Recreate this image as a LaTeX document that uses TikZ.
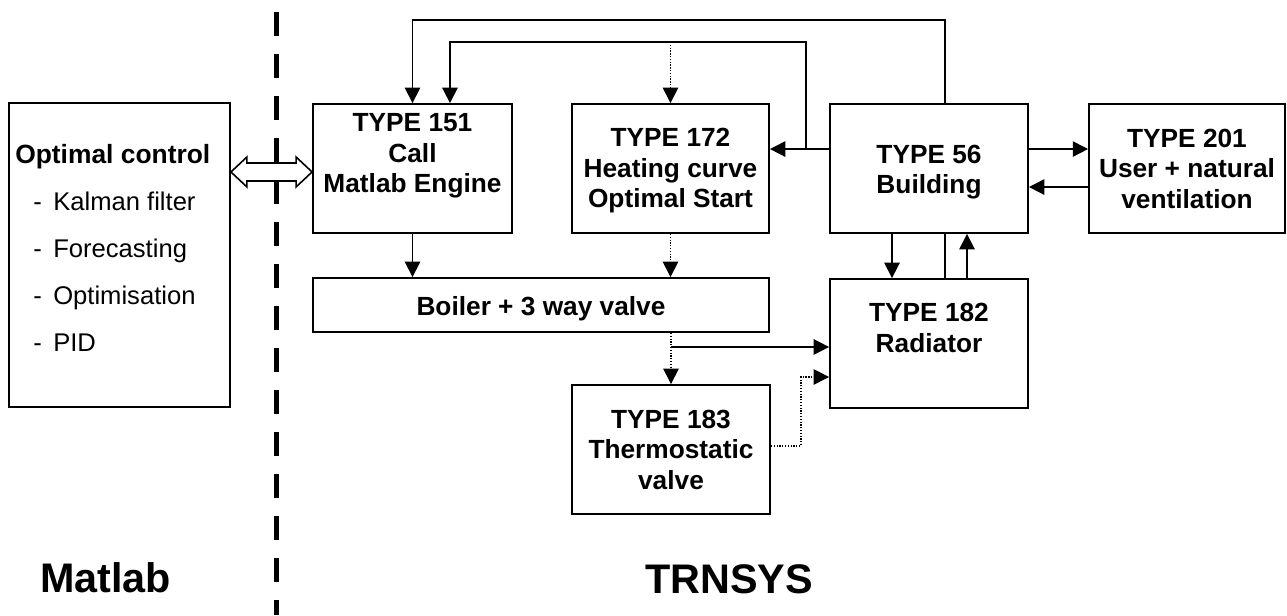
\documentclass[tikz,border=0pt]{standalone}
\usepackage{fontspec}
\setmainfont{Liberation Sans}
\usetikzlibrary{arrows.meta,calc}
\begin{document}
\begin{tikzpicture}[x=0.75pt,y=-0.75pt,
  box/.style={draw,line width=1.4pt,inner sep=0pt},
  lbl/.style={inner sep=0pt,align=center,font=\fontsize{19.7}{22.9}\selectfont\bfseries},
  octitle/.style={anchor=base west,inner sep=0pt,font=\fontsize{19.8}{22}\selectfont\bfseries},
  ocitem/.style={anchor=base west,inner sep=0pt,font=\fontsize{19.2}{22}\selectfont},
  big/.style={anchor=base west,inner sep=0pt,font=\fontsize{31}{36}\selectfont\bfseries},
  plain/.style={line width=1.2pt},
  arr/.style={line width=1.2pt,-{Triangle[length=11.5pt,width=11.5pt]}},
  dotarr/.style={line width=1pt,dash pattern=on 1pt off 1.1pt,-{Triangle[length=11.5pt,width=11.5pt]}},
  sep/.style={line width=3.75pt,dash pattern=on 18pt off 13.5pt}]
\useasboundingbox (0,0) rectangle (1287,615);

% boxes
\node[box,minimum width=165.75pt,minimum height=228pt] (oc) at (119.5,255) {};
\node[box,minimum width=149.25pt,minimum height=96.75pt] (t151) at (412.5,168.5) {};
\node[box,minimum width=147.75pt,minimum height=96.75pt] (t172) at (670.5,168.5) {};
\node[box,minimum width=148.5pt,minimum height=96.75pt] (t56) at (929,168.5) {};
\node[box,minimum width=147pt,minimum height=96.75pt] (t201) at (1187,168.5) {};
\node[box,minimum width=342pt,minimum height=40.5pt] (boiler) at (541,305) {};
\node[box,minimum width=148.5pt,minimum height=96.75pt] (t182) at (929,343.5) {};
\node[box,minimum width=148.5pt,minimum height=96.75pt] (t183) at (671,449.5) {};

% box texts
\node[lbl] (l151) at (412.5,156) {TYPE 151\\Call\\Matlab Engine};
\node[lbl] (l172) at (670.5,171) {TYPE 172\\Heating curve\\Optimal Start};
\node[lbl] (l56) at (929,172) {TYPE 56\\Building};
\node[lbl] (l201) at (1187,168.5) {TYPE 201\\User + natural\\ventilation};
\node[lbl] (lboiler) at (541,309) {Boiler + 3 way valve};
\node[lbl] (l182) at (929,328) {TYPE 182\\Radiator};
\node[lbl] (l183) at (671,449.5) {TYPE 183\\Thermostatic\\valve};

\node[octitle] (oc0) at (15,163) {Optimal control};
\node[ocitem] (oc1) at (33,210) {\makebox[15pt][l]{-}Kalman filter};
\node[ocitem] (oc2) at (33,257) {\makebox[15pt][l]{-}Forecasting};
\node[ocitem] (oc3) at (33,304) {\makebox[15pt][l]{-}Optimisation};
\node[ocitem] (oc4) at (33,351) {\makebox[15pt][l]{-}PID};

\node[big] (mat) at (40,592) {Matlab};
\node[big] (trn) at (645,593) {TRNSYS};

% double arrow Matlab <-> TYPE 151
\coordinate (dL) at ([yshift=-2.6pt]t151.west -| oc.east);
\coordinate (dR) at ([yshift=-2.6pt]t151.west);
\draw[line width=1.2pt,fill=white,line join=miter] (dL) -- ++(16,-15) -- ++(0,6) -- ($(dR)+(-16,-9)$) -- ++(0,-6) -- (dR)
  -- ++(-16,15) -- ++(0,-6) -- ($(dL)+(16,9)$) -- ++(0,6) -- cycle;

% separator
\coordinate (sepTop) at (276,12);
\coordinate (sepBot) at (276,615);
\draw[sep] (sepTop) -- (sepBot);

% connectors
\coordinate (topA) at (0,20);
\coordinate (topB) at (0,42);
\draw[arr] ([xshift=12pt]t56.north) -- ([xshift=12pt]t56.north |- topA) -| (t151.north);
\coordinate (br1) at ([xshift=-17.25pt,yshift=14.6pt]t56.west);
\draw[arr] ([yshift=14.6pt]t56.west) -- ([yshift=14.6pt]t172.east);
\draw[arr] (br1) -- (br1 |- topB) -| ([xshift=28.1pt]t151.north);
\draw[dotarr] (t172.north |- topB) -- (t172.north);
\draw[dotarr] (t172.south) -- (t172.south |- boiler.north);
\draw[arr] (t151.south) -- (t151.south |- boiler.north);
\draw[dotarr] (t183.north |- boiler.south) -- (t183.north);
\coordinate (br2) at ([yshift=-2.6pt]t182.west);
\draw[arr] (t183.north |- br2) -- (br2);
\coordinate (c3) at ([yshift=-25.1pt]t182.west);
\draw[dotarr] ([yshift=2.6pt]t183.east) -- ++(30,0) |- (c3);
\draw[arr] ([xshift=-27.75pt]t56.south) -- ([xshift=-27.75pt]t182.north);
\draw[plain] ([xshift=12pt]t182.north) -- ([xshift=12pt]t56.south);
\draw[arr] ([xshift=28.5pt]t182.north) -- ([xshift=28.5pt]t56.south);
\draw[arr] ([yshift=14.6pt]t56.east) -- ([yshift=14.6pt]t201.west);
\draw[arr] ([yshift=-13.9pt]t201.west) -- ([yshift=-13.9pt]t56.east);
\end{tikzpicture}
\end{document}
